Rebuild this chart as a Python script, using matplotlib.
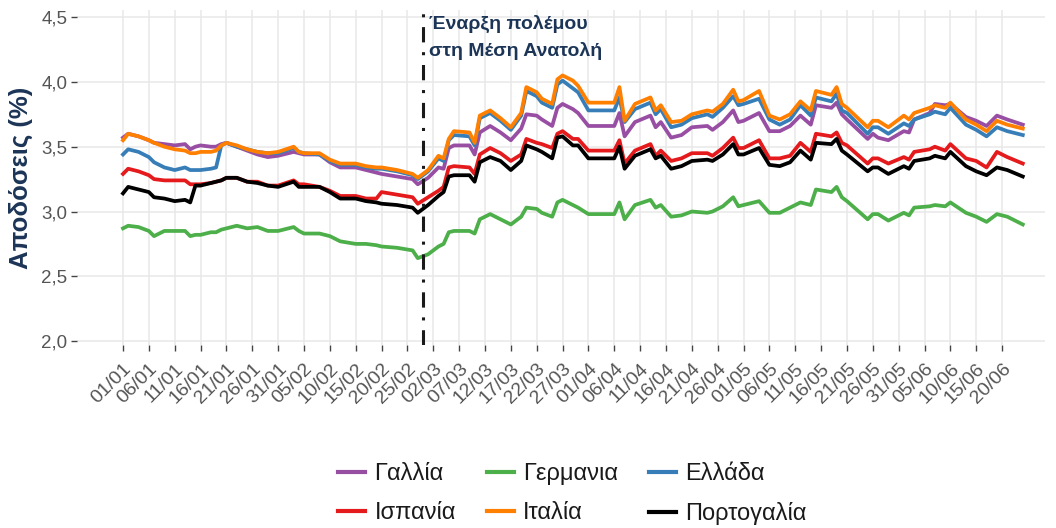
import matplotlib
matplotlib.use("Agg")
import matplotlib.pyplot as plt
import pandas as pd

plt.rcParams['font.family'] = ['Liberation Sans', 'DejaVu Sans']

start = "2026-01-01"
days = [0, 1, 3, 5, 6, 8, 10, 12, 13, 14, 15, 17, 18, 19, 20, 22, 24, 26, 28,
        30, 33, 34, 35, 38, 40, 42, 45, 47, 49, 50, 53, 56,
        57, 59, 61, 62, 63, 64, 67, 68, 69, 71, 73, 75, 77, 78, 80, 81, 83, 84, 85, 87,
        88, 90, 95, 96, 97, 99, 102, 103, 104, 106, 108, 110, 113, 114, 116,
        118, 119, 120, 123, 125, 127, 129, 131, 133, 134, 137, 138, 139, 140, 144, 145,
        146, 148, 151, 152, 153, 156, 157, 159, 160, 163, 165, 167, 169, 171, 174]

france = [3.57, 3.60, 3.58, 3.55, 3.53, 3.52, 3.51, 3.52, 3.48, 3.50, 3.51, 3.50, 3.50, 3.52, 3.53, 3.50, 3.47, 3.44, 3.42,
          3.43, 3.46, 3.45, 3.44, 3.44, 3.38, 3.34, 3.34, 3.32, 3.30, 3.29, 3.27, 3.25,
          3.21, 3.26, 3.34, 3.33, 3.49, 3.51, 3.51, 3.44, 3.61, 3.66, 3.61, 3.55, 3.64, 3.75, 3.74, 3.71, 3.66, 3.80, 3.83, 3.79,
          3.76, 3.66, 3.66, 3.76, 3.58, 3.69, 3.74, 3.65, 3.69, 3.57, 3.59, 3.65, 3.66, 3.63, 3.69,
          3.78, 3.69, 3.70, 3.76, 3.62, 3.62, 3.66, 3.74, 3.67, 3.82, 3.80, 3.84, 3.75, 3.71, 3.56, 3.60,
          3.57, 3.55, 3.62, 3.61, 3.71, 3.76, 3.83, 3.82, 3.83, 3.73, 3.70, 3.66, 3.74, 3.71, 3.67]

germany = [2.87, 2.89, 2.88, 2.85, 2.81, 2.85, 2.85, 2.85, 2.81, 2.82, 2.82, 2.84, 2.84, 2.86, 2.87, 2.89, 2.87, 2.88, 2.85,
           2.85, 2.88, 2.85, 2.83, 2.83, 2.81, 2.77, 2.75, 2.75, 2.74, 2.73, 2.72, 2.70,
           2.64, 2.67, 2.73, 2.75, 2.84, 2.85, 2.85, 2.83, 2.94, 2.98, 2.94, 2.90, 2.96, 3.03, 3.02, 2.99, 2.96, 3.07, 3.09, 3.05,
           3.03, 2.98, 2.98, 3.07, 2.94, 3.05, 3.09, 3.03, 3.05, 2.96, 2.97, 3.00, 2.99, 3.00, 3.04,
           3.11, 3.04, 3.05, 3.08, 2.99, 2.99, 3.03, 3.07, 3.05, 3.17, 3.15, 3.19, 3.11, 3.08, 2.94, 2.98,
           2.98, 2.93, 2.99, 2.97, 3.03, 3.04, 3.05, 3.04, 3.07, 2.99, 2.96, 2.92, 2.98, 2.96, 2.90]

greece = [3.44, 3.48, 3.46, 3.42, 3.38, 3.34, 3.32, 3.34, 3.32, 3.32, 3.32, 3.33, 3.34, 3.51, 3.53, 3.50, 3.48, 3.46, 3.45,
          3.45, 3.49, 3.46, 3.45, 3.44, 3.39, 3.36, 3.36, 3.34, 3.33, 3.33, 3.31, 3.28,
          3.25, 3.31, 3.41, 3.39, 3.55, 3.59, 3.58, 3.51, 3.72, 3.76, 3.70, 3.63, 3.74, 3.93, 3.89, 3.84, 3.80, 3.98, 4.01, 3.95,
          3.92, 3.78, 3.78, 3.88, 3.69, 3.79, 3.84, 3.75, 3.79, 3.65, 3.67, 3.72, 3.75, 3.73, 3.80,
          3.89, 3.82, 3.83, 3.87, 3.71, 3.67, 3.71, 3.82, 3.74, 3.88, 3.85, 3.91, 3.78, 3.76, 3.60, 3.65,
          3.65, 3.60, 3.68, 3.66, 3.71, 3.75, 3.77, 3.75, 3.80, 3.67, 3.63, 3.58, 3.65, 3.62, 3.59]

spain = [3.29, 3.33, 3.31, 3.28, 3.25, 3.24, 3.24, 3.24, 3.21, 3.21, 3.21, 3.22, 3.23, 3.24, 3.26, 3.26, 3.23, 3.23, 3.20,
         3.20, 3.24, 3.21, 3.21, 3.19, 3.16, 3.12, 3.12, 3.10, 3.10, 3.15, 3.13, 3.11,
         3.06, 3.11, 3.16, 3.19, 3.34, 3.35, 3.34, 3.29, 3.44, 3.49, 3.45, 3.39, 3.44, 3.56, 3.53, 3.52, 3.49, 3.60, 3.62, 3.56,
         3.56, 3.47, 3.47, 3.55, 3.37, 3.47, 3.52, 3.43, 3.47, 3.39, 3.41, 3.45, 3.45, 3.43, 3.49,
         3.57, 3.49, 3.49, 3.55, 3.41, 3.41, 3.43, 3.53, 3.46, 3.60, 3.58, 3.61, 3.53, 3.51, 3.37, 3.41,
         3.41, 3.37, 3.42, 3.40, 3.46, 3.48, 3.50, 3.47, 3.52, 3.41, 3.39, 3.34, 3.46, 3.42, 3.37]

italy = [3.55, 3.60, 3.58, 3.55, 3.53, 3.50, 3.48, 3.47, 3.45, 3.45, 3.46, 3.46, 3.47, 3.51, 3.53, 3.51, 3.48, 3.46, 3.45,
         3.46, 3.50, 3.46, 3.45, 3.45, 3.40, 3.37, 3.37, 3.35, 3.34, 3.34, 3.32, 3.29,
         3.26, 3.32, 3.43, 3.41, 3.56, 3.62, 3.61, 3.53, 3.74, 3.78, 3.72, 3.65, 3.76, 3.96, 3.92, 3.87, 3.83, 4.02, 4.05, 4.01,
         3.97, 3.84, 3.84, 3.96, 3.70, 3.83, 3.88, 3.78, 3.82, 3.69, 3.70, 3.75, 3.78, 3.77, 3.83,
         3.94, 3.85, 3.86, 3.93, 3.74, 3.71, 3.75, 3.85, 3.78, 3.93, 3.90, 3.96, 3.83, 3.80, 3.65, 3.70,
         3.70, 3.65, 3.74, 3.71, 3.76, 3.80, 3.82, 3.80, 3.84, 3.71, 3.67, 3.62, 3.70, 3.67, 3.64]

portugal = [3.14, 3.19, 3.17, 3.15, 3.11, 3.10, 3.08, 3.09, 3.07, 3.20, 3.20, 3.22, 3.23, 3.24, 3.26, 3.26, 3.23, 3.22, 3.20,
            3.19, 3.23, 3.19, 3.19, 3.19, 3.15, 3.10, 3.10, 3.08, 3.07, 3.06, 3.05, 3.03,
            2.99, 3.05, 3.12, 3.15, 3.27, 3.28, 3.28, 3.23, 3.38, 3.42, 3.39, 3.32, 3.39, 3.51, 3.48, 3.46, 3.41, 3.57, 3.58, 3.51,
            3.51, 3.41, 3.41, 3.50, 3.33, 3.43, 3.48, 3.41, 3.43, 3.33, 3.35, 3.39, 3.40, 3.39, 3.44,
            3.52, 3.44, 3.44, 3.49, 3.36, 3.35, 3.38, 3.47, 3.40, 3.53, 3.52, 3.56, 3.47, 3.44, 3.31, 3.34,
            3.34, 3.29, 3.35, 3.33, 3.39, 3.41, 3.43, 3.41, 3.46, 3.35, 3.31, 3.28, 3.34, 3.32, 3.27]

countries = ["Γαλλία", "Γερμανια", "Ελλάδα", "Ισπανία", "Ιταλία", "Πορτογαλία"]
series = [france, germany, greece, spain, italy, portugal]
colors = ["#984EA3", "#4DAF4A", "#377EB8", "#E41A1C", "#FF7F00", "#000000"]

yticks = [2.0, 2.5, 3.0, 3.5, 4.0, 4.5]
yticklabels = ["2,0", "2,5", "3,0", "3,5", "4,0", "4,5"]
event_date = "2026-02-28"
event_lines = ["Έναρξη πολέμου", "στη Μέση Ανατολή"]
ylabel = "Αποδόσεις (%)"

dates = pd.Timestamp(start) + pd.to_timedelta(days, unit="D")
xticks = pd.date_range("2026-01-01", "2026-06-20", freq="5D")

fig = plt.figure(figsize=(10.56, 5.28), dpi=100)
ax = fig.add_axes([0.0729, 0.3466, 0.9167, 0.6345])

lines = {}
for name, vals, c in zip(countries, series, colors):
    ln, = ax.plot(dates, vals, color=c, lw=2.7, solid_joinstyle="round", label=name, zorder=3)
    lines[name] = ln

ev = pd.Timestamp(event_date)
ax.axvline(ev, color="#1a1a1a", lw=2.2, linestyle=(0, (5.0, 3.2, 1.0, 3.2)), zorder=4)
ax.text(ev + pd.Timedelta(days=1.2), 4.45, event_lines[0], ha="left", va="center",
        fontsize=14, fontweight="bold", color="#1c3557", zorder=5)
ax.text(ev + pd.Timedelta(days=1.2), 4.235, event_lines[1], ha="left", va="center",
        fontsize=14, fontweight="bold", color="#1c3557", zorder=5)

ax.set_xlim(pd.Timestamp(start) - pd.Timedelta(days=8.9), pd.Timestamp(start) + pd.Timedelta(days=178.3))
ax.set_ylim(1.97, 4.555)
ax.set_yticks(yticks)
ax.set_yticklabels(yticklabels)
ax.set_xticks(xticks)
ax.set_xticklabels([d.strftime("%d/%m") for d in xticks], rotation=45, ha="right", va="top",
                   rotation_mode="anchor")

for s in ax.spines.values():
    s.set_visible(False)
ax.grid(True, color="#E8E8E8", lw=1.1, zorder=0)
ax.set_axisbelow(True)
ax.tick_params(axis="both", length=4, width=1, color="#444444", labelcolor="#555555", labelsize=13.5)
ax.tick_params(axis="x", labelsize=14, pad=7)
ax.tick_params(axis="y", pad=3)

ax.set_ylabel(ylabel, fontsize=18.5, fontweight="bold", color="#1c3557")
ax.yaxis.set_label_coords(-0.045, 0.5)

order = ["Γαλλία", "Ισπανία", "Γερμανια", "Ιταλία", "Ελλάδα", "Πορτογαλία"]
leg = fig.legend([lines[n] for n in order], order, loc="center", bbox_to_anchor=(0.542, 0.064),
                 ncol=3, frameon=False, fontsize=17, handlelength=1.15, handletextpad=0.4,
                 columnspacing=1.3, labelspacing=0.72)
for t in leg.get_texts():
    t.set_color("#1a1a1a")
for l in leg.get_lines():
    l.set_linewidth(3.0)

fig.savefig("out.png", dpi=100)
